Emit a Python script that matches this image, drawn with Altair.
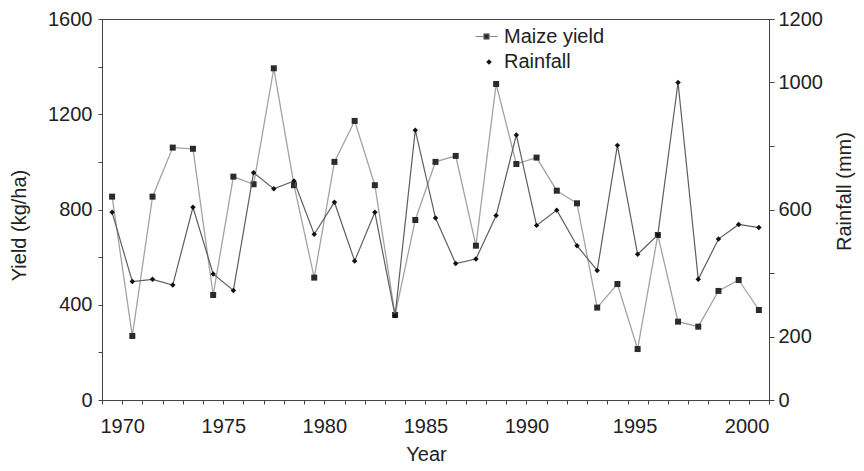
import altair as alt
import pandas as pd

# ---- data ----
years = list(range(1969, 2002))
maize_yield = [854, 269, 854, 1060, 1055, 441, 938, 906, 1393, 902, 514,
               1000, 1172, 902, 357, 756, 1000, 1025, 648, 1327, 991, 1018,
               879, 826, 388, 487, 214, 693, 329, 308, 458, 504, 378]
rainfall = [591, 373, 380, 362, 607, 397, 345, 716, 665, 690, 522,
            623, 438, 591, 265, 850, 573, 430, 444, 581, 835, 550,
            598, 486, 408, 802, 459, 520, 1000, 380, 507, 553, 543]
x_ticks = list(range(1969, 2003))
yield_ticks = list(range(0, 1601, 200))
rain_ticks = list(range(0, 1201, 200))
rain_labels = [0, 200, 600, 1000, 1200]

df = pd.DataFrame({"year": years, "maize": maize_yield, "rain": rainfall})

FONT = "Liberation Sans"
AX = "#444444"
TXT = "#222222"

base = alt.Chart(df).transform_calculate(
    xpos="datum.year + 0.5",
    s1="'Maize yield'",
    s2="'Rainfall'",
)

x_enc = alt.X(
    "xpos:Q",
    scale=alt.Scale(domain=[1969, 2002], nice=False, zero=False),
    axis=alt.Axis(
        values=x_ticks,
        format="d",
        labelExpr="datum.value % 5 == 0 ? datum.label : ''",
        labelOffset={
            "condition": [
                {"test": "datum.value == 1995", "value": 7},
                {"test": "datum.value == 2000", "value": 18},
            ],
            "value": 0,
        },
        tickSize=4,
        labelPadding=12,
        title="Year",
        titleX=324,
        titleY=60,
        titleAlign="center",
        titleBaseline="alphabetic",
    ),
)

y_yield = alt.Y(
    "maize:Q",
    scale=alt.Scale(domain=[0, 1600], nice=False, zero=True),
    axis=alt.Axis(
        orient="left",
        values=yield_ticks,
        format="d",
        labelExpr="datum.value % 400 == 0 ? datum.label : ''",
        tickSize=4,
        labelPadding=6,
        title="Yield (kg/ha)",
        titleX=-77,
        titleY=206,
        titleAngle=270,
        titleAlign="center",
        titleBaseline="alphabetic",
    ),
)

y_rain = alt.Y(
    "rain:Q",
    scale=alt.Scale(domain=[0, 1200], nice=False, zero=True),
    axis=alt.Axis(
        orient="right",
        values=rain_ticks,
        format="d",
        labelExpr="indexof(" + str(rain_labels) + ", datum.value) >= 0 ? datum.label : ''",
        tickSize=5,
        labelPadding=4,
        title="Rainfall (mm)",
        titleX=81,
        titleY=172,
        titleAngle=270,
        titleAlign="center",
        titleBaseline="alphabetic",
    ),
)

maize_symbol = "M-1,0H-0.25M0.25,0H1M-0.25,-0.25H0.25V0.25H-0.25Z"

maize_line = base.mark_line(color="#a3a3a3", strokeWidth=1.3).encode(x=x_enc, y=y_yield)
maize_pts = base.mark_point(shape="square", filled=True, size=36, opacity=1).encode(
    x=x_enc,
    y=y_yield,
    color=alt.Color(
        "s1:N",
        scale=alt.Scale(domain=["Maize yield"], range=["#2b2b2b"]),
        legend=alt.Legend(
            title=None,
            orient="none",
            legendX=373,
            legendY=6,
            symbolType=maize_symbol,
            symbolSize=484,
            symbolStrokeColor="#8a8a8a",
            symbolStrokeWidth=1,
            labelOffset=6,
        ),
    ),
)

rain_line = base.mark_line(color="#5e5e5e", strokeWidth=1.2).encode(x=x_enc, y=y_rain)
rain_pts = base.mark_point(filled=True, size=30, opacity=1, color="#111111").encode(
    x=x_enc,
    y=y_rain,
    shape=alt.Shape(
        "s2:N",
        scale=alt.Scale(domain=["Rainfall"], range=["diamond"]),
        legend=alt.Legend(
            title=None,
            orient="none",
            legendX=377,
            legendY=33,
            symbolSize=30,
            labelOffset=5,
        ),
    ),
)

chart = (
    alt.layer(alt.layer(maize_line, maize_pts), alt.layer(rain_line, rain_pts))
    .resolve_scale(y="independent")
    .properties(
        width=667,
        height=381,
        padding={"left": 94, "top": 11, "right": 87, "bottom": 63},
        autosize=alt.AutoSizeParams(type="none"),
        background="white",
    )
    .configure_view(stroke=AX, strokeWidth=1)
    .configure_axis(
        grid=False,
        domainColor=AX,
        domainWidth=1,
        tickColor=AX,
        tickWidth=1,
        labelFont=FONT,
        labelFontSize=20,
        labelColor=TXT,
        titleFont=FONT,
        titleFontSize=20,
        titleFontWeight="normal",
        titleColor=TXT,
    )
    .configure_legend(
        labelFont=FONT,
        labelFontSize=20,
        labelColor=TXT,
        padding=0,
    )
)

chart.save("out.html", embed_options={"renderer": "svg", "actions": False})
